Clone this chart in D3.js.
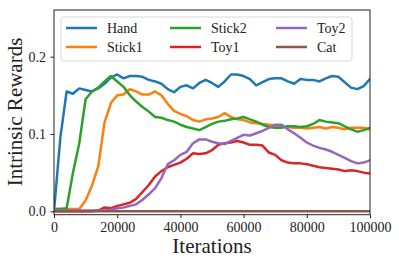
<!DOCTYPE html>
<html>
<head>
<meta charset="utf-8">
<script src="https://cdn.jsdelivr.net/npm/d3@7"></script>
<style>
  body { margin: 0; background: #fff; }
  svg text { font-family: "Liberation Serif", "Times New Roman", "DejaVu Serif", serif !important; }
</style>
</head>
<body>
<div id="chart"></div>
<script>
const iterations = d3.range(0, 100001, 2000)

const hand = [0, 0.095, 0.155, 0.152, 0.159, 0.157, 0.155, 0.159, 0.165, 0.173,
  0.177, 0.172, 0.175, 0.175, 0.174, 0.170, 0.168, 0.165, 0.158, 0.154,
  0.161, 0.163, 0.159, 0.166, 0.170, 0.166, 0.161, 0.168, 0.177, 0.177,
  0.175, 0.171, 0.163, 0.167, 0.171, 0.172, 0.172, 0.168, 0.165, 0.171,
  0.170, 0.170, 0.168, 0.172, 0.175, 0.174, 0.167, 0.160, 0.158, 0.162, 0.171]

const stick1 = [0.003, 0.003, 0.003, 0.003, 0.003, 0.014, 0.033, 0.058, 0.115, 0.140,
  0.150, 0.151, 0.158, 0.155, 0.151, 0.151, 0.155, 0.150, 0.139, 0.130,
  0.126, 0.123, 0.118, 0.116, 0.119, 0.120, 0.122, 0.127, 0.122, 0.119,
  0.118, 0.115, 0.114, 0.113, 0.112, 0.111, 0.110, 0.109, 0.108, 0.108,
  0.107, 0.108, 0.109, 0.107, 0.109, 0.108, 0.106, 0.108, 0.108, 0.108, 0.106]

const stick2 = [0.003, 0.003, 0.004, 0.050, 0.088, 0.145, 0.155, 0.160, 0.168, 0.175,
  0.168, 0.161, 0.150, 0.142, 0.135, 0.129, 0.122, 0.121, 0.118, 0.116,
  0.112, 0.109, 0.107, 0.105, 0.109, 0.113, 0.116, 0.117, 0.119, 0.120,
  0.122, 0.119, 0.116, 0.112, 0.109, 0.108, 0.108, 0.110, 0.110, 0.109,
  0.110, 0.113, 0.118, 0.116, 0.115, 0.114, 0.110, 0.106, 0.103, 0.105, 0.108]

const toy1 = [0, 0, 0, 0, 0, 0, 0, 0.001, 0.005, 0.004,
  0.007, 0.009, 0.011, 0.016, 0.025, 0.034, 0.045, 0.052, 0.057, 0.060,
  0.063, 0.068, 0.075, 0.074, 0.075, 0.079, 0.086, 0.088, 0.089, 0.091,
  0.089, 0.086, 0.086, 0.085, 0.076, 0.073, 0.066, 0.063, 0.062, 0.062,
  0.061, 0.059, 0.057, 0.056, 0.055, 0.054, 0.052, 0.053, 0.052, 0.050, 0.049]

const toy2 = [0.001, 0.001, 0.001, 0.001, 0.001, 0.001, 0.001, 0.001, 0.001, 0.002,
  0.004, 0.005, 0.007, 0.009, 0.015, 0.022, 0.030, 0.043, 0.061, 0.066,
  0.073, 0.077, 0.088, 0.093, 0.093, 0.090, 0.088, 0.087, 0.091, 0.095,
  0.099, 0.098, 0.101, 0.104, 0.108, 0.112, 0.112, 0.106, 0.101, 0.095,
  0.089, 0.085, 0.082, 0.080, 0.077, 0.073, 0.069, 0.065, 0.062, 0.063, 0.066]

const cat = iterations.map(() => 0)

const names = ['Hand', 'Stick1', 'Stick2', 'Toy1', 'Toy2', 'Cat']
const colors = ['#1f77b4', '#ff7f0e', '#2ca02c', '#d62728', '#9467bd', '#8c564b']
const seriesVals = [hand, stick1, stick2, toy1, toy2, cat]

const xTicks = [0, 20000, 40000, 60000, 80000, 100000]
const yTicks = [0.0, 0.1, 0.2]

const w = 399
const h = 264
const serif = '"Liberation Serif", "Times New Roman", "DejaVu Serif", serif'

const xScale = d3.scaleLinear()
                .domain([0, 100000])
                .range([54, 370])

const yScale = d3.scaleLinear()
                .domain([-0.0044, 0.2604])
                .range([214.7, 10])

const svg = d3.select('#chart')
            .append('svg')
            .attr('width', w)
            .attr('height', h)
            .attr('font-family', serif)

svg.append('defs').append('clipPath').attr('id', 'clip')
    .append('rect')
    .attr('x', 54).attr('y', 10)
    .attr('width', 316).attr('height', 204.7)

const line = d3.line()
              .x((d, i) => xScale(iterations[i]))
              .y(d => yScale(d))

const plot = svg.append('g').attr('clip-path', 'url(#clip)')

plot.selectAll('path.series')
    .data(seriesVals)
    .enter()
    .append('path')
    .attr('class', 'series')
    .attr('d', d => line(d))
    .attr('fill', 'none')
    .attr('stroke', (d, i) => colors[i])
    .attr('stroke-width', 2.5)
    .attr('stroke-linejoin', 'round')
    .attr('stroke-linecap', 'square')

// frame
svg.append('rect')
    .attr('x', 54).attr('y', 10)
    .attr('width', 316).attr('height', 204.7)
    .attr('fill', 'none')
    .attr('stroke', '#222')
    .attr('stroke-width', 1)

let xAxis = d3.axisBottom(xScale).tickValues(xTicks).tickFormat(d3.format('d')).tickSize(3.5).tickSizeOuter(0)
let yAxis = d3.axisLeft(yScale).tickValues(yTicks).tickFormat(d3.format('.1f')).tickSize(3.5).tickSizeOuter(0)

const gx = svg.append('g')
    .attr('transform', `translate(0, 214.7)`)
    .call(xAxis)
const gy = svg.append('g')
    .attr('transform', `translate(54, 0)`)
    .call(yAxis)

for (const g of [gx, gy]) {
  g.attr('font-family', serif).attr('font-size', 14)
  g.select('.domain').remove()
  g.selectAll('line').attr('stroke', '#222')
  g.selectAll('text')
    .style('font-family', serif)
    .attr('font-size', 14)
    .attr('fill', '#222')
}
gx.selectAll('text').attr('dy', '0.76em')
gy.selectAll('text').attr('dx', '-0.1em')

svg.append('text')
    .attr('x', 212).attr('y', 253)
    .attr('text-anchor', 'middle')
    .style('font-family', serif)
    .attr('font-size', 21)
    .attr('fill', '#222')
    .text('Iterations')

svg.append('text')
    .attr('transform', 'translate(22, 112) rotate(-90)')
    .attr('text-anchor', 'middle')
    .style('font-family', serif)
    .attr('font-size', 21)
    .attr('fill', '#222')
    .text('Intrinsic Rewards')

// legend
const legend = svg.append('g')
legend.append('rect')
    .attr('x', 61).attr('y', 17)
    .attr('width', 291).attr('height', 44)
    .attr('rx', 3)
    .attr('fill', 'rgba(255,255,255,0.8)')
    .attr('stroke', '#d8d8d8')
    .attr('stroke-width', 1)

const colX = [66, 170, 276]
const rowY = [28, 47]

const items = legend.selectAll('g.item')
    .data(names)
    .enter()
    .append('g')
    .attr('class', 'item')
    .attr('transform', (d, i) => `translate(${colX[Math.floor(i / 2)]}, ${rowY[i % 2]})`)

items.append('line')
    .attr('x1', 0).attr('x2', 31)
    .attr('y1', 0).attr('y2', 0)
    .attr('stroke', (d, i) => colors[i])
    .attr('stroke-width', 2.5)

items.append('text')
    .attr('x', 41).attr('y', 0)
    .attr('dy', '0.35em')
    .style('font-family', serif)
    .attr('font-size', 14)
    .attr('fill', '#222')
    .text(d => d)
</script>
</body>
</html>
